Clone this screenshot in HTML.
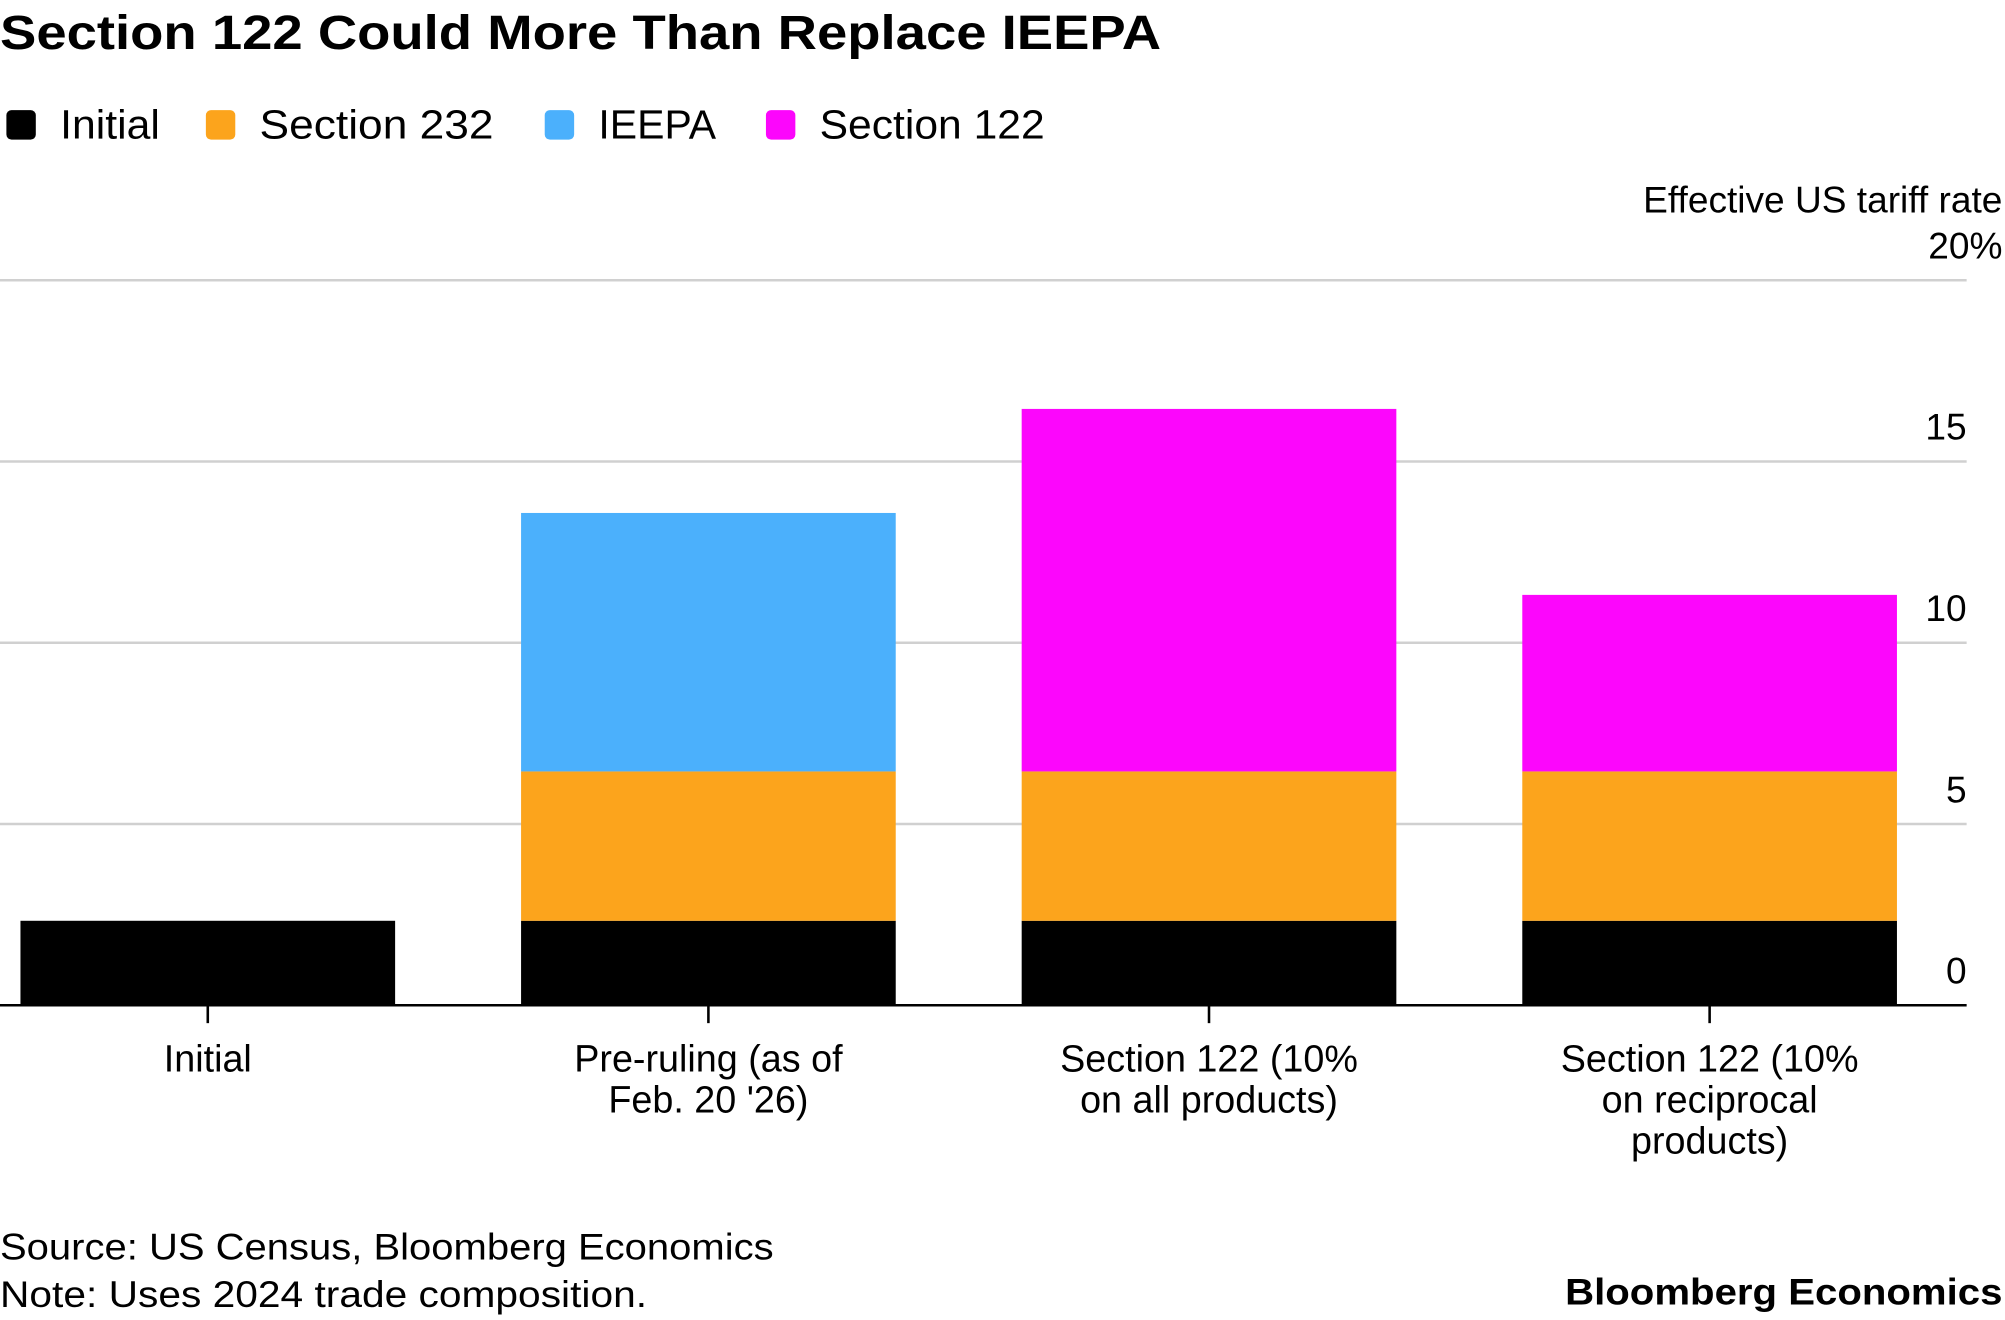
<!DOCTYPE html>
<html><head><meta charset="utf-8"><style>
html,body{margin:0;padding:0;background:#fff;}
svg{display:block;font-family:"Liberation Sans",sans-serif;}
</style></head><body>
<svg width="2005" height="1320" viewBox="0 0 1568 1032">
<text x="0" y="38" font-size="38" font-weight="bold" fill="#000" textLength="908" lengthAdjust="spacingAndGlyphs">Section 122 Could More Than Replace IEEPA</text>
<g id="legend"></g>
<text x="1566" y="166" font-size="29" text-anchor="end">Effective US tariff rate</text>
<g id="grid"></g><g id="bars"></g><g id="axis"></g>
<text x="0" y="985" font-size="29" textLength="605" lengthAdjust="spacingAndGlyphs">Source: US Census, Bloomberg Economics</text>
<text x="0" y="1022" font-size="29" textLength="506" lengthAdjust="spacingAndGlyphs">Note: Uses 2024 trade composition.</text>
<text x="1224" y="1020" font-size="29" font-weight="bold" textLength="342" lengthAdjust="spacingAndGlyphs">Bloomberg Economics</text>
</svg>
<script>
const categories=[["Initial"],["Pre-ruling (as of","Feb. 20 '26)"],["Section 122 (10%","on all products)"],["Section 122 (10%","on reciprocal","products)"]];
const seriesNames=["Initial","Section 232","IEEPA","Section 122"];
const seriesColors=["#000000","#fca41c","#4bb0fc","#fc06fc"];
const initialVals=[2.33,2.33,2.33,2.33];
const s232Vals=[0,4.12,4.12,4.12];
const ieepaVals=[0,7.13,0,0];
const s122Vals=[0,0,10,4.87];
const yTicks=[0,5,10,15,20];
const yTickLabels=["0","5","10","15","20%"];
const NS="http://www.w3.org/2000/svg";
const y0=786,pxPer=(786-219)/20;
const y=v=>y0-v*pxPer;
const step=391.5,x0=16,bw=293;
const xl=i=>x0+i*step;
function mk(t,a,p){const e=document.createElementNS(NS,t);for(const k in a)e.setAttribute(k,a[k]);p.appendChild(e);return e;}
const grid=document.getElementById('grid'),bars=document.getElementById('bars'),axis=document.getElementById('axis'),legend=document.getElementById('legend');
yTicks.forEach((t,i)=>{
 if(t>0){const l=mk('line',{x1:0,x2:1538,y1:y(t),y2:y(t),stroke:'#d0d0d0','stroke-width':2},grid);
 
 }
 const tx=mk('text',{x:t===20?1566:1538,y:y(t)-17,'font-size':29,'text-anchor':'end'},grid);
 tx.textContent=yTickLabels[i];
 
 
});
const series=[initialVals,s232Vals,ieepaVals,s122Vals];
categories.forEach((c,i)=>{
 let base=0;
 series.forEach((s,j)=>{
  if(s[i]>0){const r=mk('rect',{x:xl(i),y:y(base+s[i]),width:bw,height:y(base)-y(base+s[i]),fill:seriesColors[j]},bars);
  
  }
  base+=s[i];
 });
 const cx=xl(i)+bw/2;
 mk('line',{x1:cx,x2:cx,y1:786,y2:800,stroke:'#000','stroke-width':2},axis);
 c.forEach((ln,k)=>{const t=mk('text',{x:cx,y:838+k*32,'font-size':29.5,'text-anchor':'middle'},axis);t.textContent=ln;
 
 });
});
const bl=mk('line',{x1:0,x2:1538,y1:786,y2:786,stroke:'#000','stroke-width':2},axis);


const lx=[5,161,426,599];
const lw=[78,183,92,176];
seriesNames.forEach((n,i)=>{
 const g=mk('g',{},legend);
 
 
 mk('rect',{x:lx[i],y:86,width:23,height:23,rx:4,fill:seriesColors[i]},g);
 const t=mk('text',{x:lx[i]+42,y:108,'font-size':32,textLength:lw[i],lengthAdjust:'spacingAndGlyphs'},g);t.textContent=n;
});
</script>
</body></html>
